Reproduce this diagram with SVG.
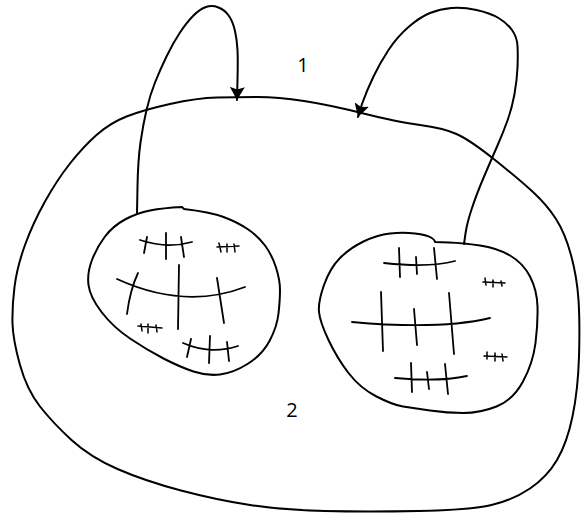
<svg xmlns="http://www.w3.org/2000/svg" width="581" height="518" viewBox="0 0 581 518">
<style>
.ln{fill:none;stroke:#000;stroke-width:2;stroke-linecap:round;stroke-linejoin:round}
.h{fill:none;stroke:#000;stroke-width:1.8;stroke-linecap:round}
.hs{fill:none;stroke:#000;stroke-width:1.5;stroke-linecap:round}
.lbl{font-family:"Open Sans","Noto Sans",sans-serif;font-size:20px;fill:#000;text-anchor:middle}
</style>
<defs>
<marker id="arr" viewBox="0 0 14 15" refX="13" refY="7.5" markerWidth="14" markerHeight="15" markerUnits="userSpaceOnUse" orient="auto">
<path d="M0,0 L13,7.5 L0,15 L2.5,7.5 Z" fill="#000"/>
</marker>
</defs>
<rect width="581" height="518" fill="#fff"/>
<g id="outer">
<path class="ln" d="M 217,97.5 Q 237,97 257.5,97 Q 278,97 304,101 Q 330,105 363.5,113.5 Q 397,122 420,125 Q 443,128 456.5,134 Q 470,140 495,160 Q 520,180 533.5,192.5 Q 547,205 556,219 Q 565,233 571,255 Q 577,277 578.5,300 Q 580,323 579,356.5 Q 578,390 572.5,416.5 Q 567,443 557,460 Q 547,477 530,488.5 Q 513,500 491.5,505 Q 470,510 418.5,511 Q 367,512 325,511 Q 283,510 250,505 Q 217,500 181,490.5 Q 145,481 117.5,469 Q 90,457 71.5,440 Q 53,423 40,406.5 Q 27,390 20,365 Q 13,340 12.5,323.5 Q 12,307 14.5,287 Q 17,267 25,245 Q 33,223 45,201.5 Q 57,180 70,163.5 Q 83,147 96.5,135 Q 110,123 126.5,116.5 Q 143,110 170,104 Q 197,98 217,97.5 Z"/>
<text class="lbl" x="303" y="72">1</text>
<text class="lbl" x="292" y="417">2</text>
</g>
<g id="left-blob">
<path class="ln" d="M 184,209 Q 210,212 223.5,217 Q 237,222 247.5,229 Q 258,236 265,245.5 Q 272,255 276,267.5 Q 280,280 280,290 Q 280,300 278.5,313.5 Q 277,327 269.5,341 Q 262,355 247.5,364 Q 233,373 220,374.5 Q 207,376 193.5,371.5 Q 180,367 163.5,358.5 Q 147,350 130,338.5 Q 113,327 101.5,312 Q 90,297 88.5,285 Q 87,273 92,260 Q 97,247 105,236.5 Q 113,226 125,219.5 Q 137,213 150,210.5 Q 163,208 182,207 Z"/>
<path class="h" d="M140,240 Q167,249 192,242 M147,237 L144,253 M166,233 L166,259 M181,237 L184,257"/>
<path class="hs" d="M217,247 L239,246 M219,243 L221,252 M227,244 L227,252 M234,244 L235,252"/>
<path class="h" d="M117,279 Q185,310 245,287 M138,273 Q130,290 127,314 M179,265 L178,329 M217,278 L224,323"/>
<path class="hs" d="M138,326 L162,328 M141,324 L142,331 M148,324 L148,333 M156,325 L157,332"/>
<path class="h" d="M183,343 Q210,355 238,346 M191,339 L187,357 M210,336 L209,363 M227,342 L229,361"/>
</g>
<g id="right-blob">
<path class="ln" d="M 435,242 L 449,242.5 Q 463,243 480,245.5 Q 497,248 510,255.5 Q 523,263 530,276.5 Q 537,290 537.5,306.5 Q 538,323 535.5,343 Q 533,363 523,381.5 Q 513,400 496.5,406.5 Q 480,413 463.5,413 Q 447,413 430,410.5 Q 413,408 403,406.5 Q 393,405 376.5,396.5 Q 360,388 348.5,373 Q 337,358 328.5,340 Q 320,322 319,312 Q 318,302 324,285 Q 330,268 340,258 Q 350,248 363.5,241.5 Q 377,235 390,233.5 Q 403,232 415,233.5 Q 427,235 431,237.5 Q 435,240 435,242 Z"/>
<path class="h" d="M384,263 Q430,268 455,261 M399,248 L400,277 M416,257 L417,274 M434,248 L437,279"/>
<path class="hs" d="M483,282 L505,283 M485,278 L486,285 M493,280 L493,287 M501,281 L502,286"/>
<path class="h" d="M352,322 Q440,330 490,318 M381,292 L383,351 M414,309 L417,345 M449,293 L454,354"/>
<path class="hs" d="M484,356 L507,357 M487,352 L487,359 M495,353 L495,361 M502,354 L503,361"/>
<path class="h" d="M395,378 Q440,382 467,376 M411,363 L412,392 M427,372 L429,389 M445,364 L448,394"/>
</g>
<g id="connectors">
<path class="ln" marker-end="url(#arr)" d="M 137,213 L 137.5,186.5 Q 138,160 140.5,142.5 Q 143,125 146.5,110 Q 150,95 155,82.5 Q 160,70 166.5,56.5 Q 173,43 180,32.5 Q 187,22 193.5,15.5 Q 200,9 206,7 Q 212,5 218.5,7.5 Q 225,10 229,16 Q 233,22 235,31 Q 237,40 237.5,50 Q 238,60 237.5,80 L 237,100"/>
<path class="ln" marker-end="url(#arr)" d="M 464,244 L 465.5,233.5 Q 467,223 472,208 Q 477,193 484.5,175.5 Q 492,158 497.5,145.5 Q 503,133 507.5,120.5 Q 512,108 514.5,94 Q 517,80 517.5,67.5 Q 518,55 517.5,46 Q 517,37 512,30 Q 507,23 498.5,18 Q 490,13 476.5,10 Q 463,7 451.5,8 Q 440,9 430,13 Q 420,17 408.5,27 Q 397,37 388.5,50 Q 380,63 373.5,76.5 Q 367,90 362,104 L 358,117"/>
</g>
</svg>
